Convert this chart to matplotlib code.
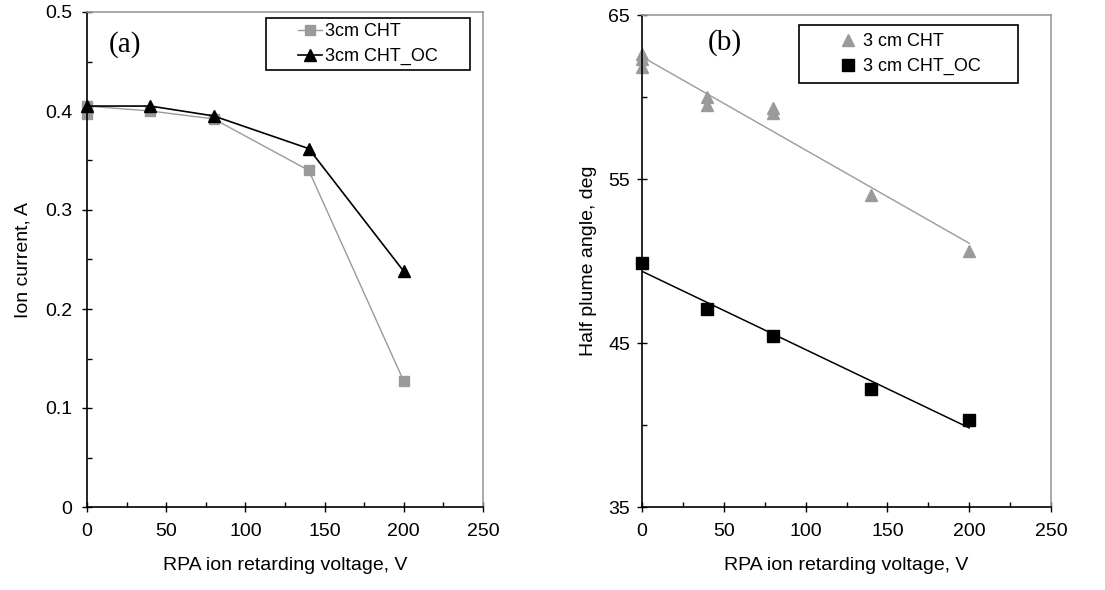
import numpy as np
import matplotlib
matplotlib.use("Agg")
import matplotlib.pyplot as plt
from matplotlib.patches import Rectangle
from matplotlib.ticker import MultipleLocator, FixedLocator

# panel (a): ion current vs retarding voltage
volt_cht = [0, 0, 40, 80, 140, 200]
current_cht = [0.397, 0.405, 0.400, 0.392, 0.340, 0.127]
volt_oc = [0, 40, 80, 140, 200]
current_oc = [0.405, 0.405, 0.395, 0.362, 0.238]

# panel (b): half plume angle vs retarding voltage
angle_volt_cht = [0, 0, 0, 40, 40, 80, 80, 140, 200]
angle_cht = [62.6, 62.3, 61.8, 60.0, 59.5, 59.3, 59.0, 54.0, 50.6]
angle_volt_oc = [0, 40, 80, 140, 200]
angle_oc = [49.9, 47.1, 45.4, 42.2, 40.3]
angle_ticks = [35, 45, 55, 65]
angle_minor = [40, 50, 60]

GRAY = "#9a9a9a"
W, H = 1105, 590

plt.rcParams["font.family"] = ["Liberation Sans", "DejaVu Sans"]

fig = plt.figure(figsize=(W / 100, H / 100), dpi=100)


def px_box(x0, y0, x1, y1):
    return [x0 / W, 1 - y1 / H, (x1 - x0) / W, (y1 - y0) / H]


def style_axes(ax, ypad):
    for side in ("left", "bottom"):
        ax.spines[side].set_color("black")
        ax.spines[side].set_linewidth(1.2)
    for side in ("top", "right"):
        ax.spines[side].set_color(GRAY)
        ax.spines[side].set_linewidth(1.2)
    ax.tick_params(which="major", direction="inout", length=7, width=1, labelsize=14)
    ax.tick_params(which="minor", direction="in", length=3.6, width=1)
    ax.tick_params(axis="x", which="major", pad=8)
    ax.tick_params(axis="y", which="major", pad=ypad)
    ax.xaxis.set_major_locator(MultipleLocator(50))
    ax.xaxis.set_minor_locator(MultipleLocator(25))
    ax.set_xlim(0, 250)


def framed_legend(ax, handles, labels, box):
    x0, y0, x1, y1 = box
    fig.patches.append(Rectangle((x0 / W, 1 - y1 / H), (x1 - x0) / W, (y1 - y0) / H,
                                 transform=fig.transFigure, fill=False,
                                 ec="black", lw=1.2))
    ax.legend(handles, labels, loc="center",
              bbox_to_anchor=((x0 + x1) / 2 / W, 1 - (y0 + y1) / 2 / H),
              bbox_transform=fig.transFigure, frameon=False, fontsize=13,
              handlelength=1.3, handletextpad=0.2, labelspacing=0.45,
              borderpad=0.2)


# ---- panel (a)
ax1 = fig.add_axes(px_box(87, 12, 483, 507))
style_axes(ax1, ypad=7)
l1, = ax1.plot(volt_cht, current_cht, color=GRAY, lw=1, marker="s", ms=7,
               mfc=GRAY, mec=GRAY, clip_on=False)
l2, = ax1.plot(volt_oc, current_oc, color="black", lw=1.2, marker="^", ms=8,
               mfc="black", mec="black", clip_on=False)
ax1.set_ylim(0, 0.5)
ax1.yaxis.set_major_locator(MultipleLocator(0.1))
ax1.yaxis.set_minor_locator(MultipleLocator(0.05))
ax1.yaxis.set_major_formatter(plt.FuncFormatter(lambda v, p: "0" if v == 0 else f"{v:.1f}"))
ax1.set_xlabel("RPA ion retarding voltage, V", fontsize=14, labelpad=12)
ax1.set_ylabel("Ion current, A", fontsize=14, labelpad=10)
fig.text(125 / W, 1 - 45 / H, "(a)", ha="center", va="center",
         fontsize=21, family="Liberation Serif")
framed_legend(ax1, [l1, l2], ["3cm CHT", "3cm CHT_OC"], (266, 18, 470, 70))

# ---- panel (b)
ax2 = fig.add_axes(px_box(642, 15, 1051, 507))
style_axes(ax2, ypad=5)
p1, = ax2.plot(angle_volt_cht, angle_cht, ls="none", marker="^", ms=8,
               mfc=GRAY, mec=GRAY, clip_on=False)
p2, = ax2.plot(angle_volt_oc, angle_oc, ls="none", marker="s", ms=8,
               mfc="black", mec="black", clip_on=False)

# linear trend lines over the measured range
for xs, ys, col, lw in ((angle_volt_cht, angle_cht, GRAY, 1),
                        (angle_volt_oc, angle_oc, "black", 1.1)):
    k, b = np.polyfit(xs, ys, 1)
    xx = np.array([min(xs), max(xs)])
    ax2.plot(xx, k * xx + b, color=col, lw=lw, zorder=1)

ax2.set_ylim(35, 65)
ax2.yaxis.set_major_locator(FixedLocator(angle_ticks))
ax2.yaxis.set_minor_locator(FixedLocator(angle_minor))
ax2.set_xlabel("RPA ion retarding voltage, V", fontsize=14, labelpad=12)
ax2.set_ylabel("Half plume angle, deg", fontsize=14, labelpad=8)
fig.text(725 / W, 1 - 43 / H, "(b)", ha="center", va="center",
         fontsize=21, family="Liberation Serif")
framed_legend(ax2, [p1, p2], ["3 cm CHT", "3 cm CHT_OC"], (799, 25, 1018, 83))

fig.savefig("out.png", dpi=100)
